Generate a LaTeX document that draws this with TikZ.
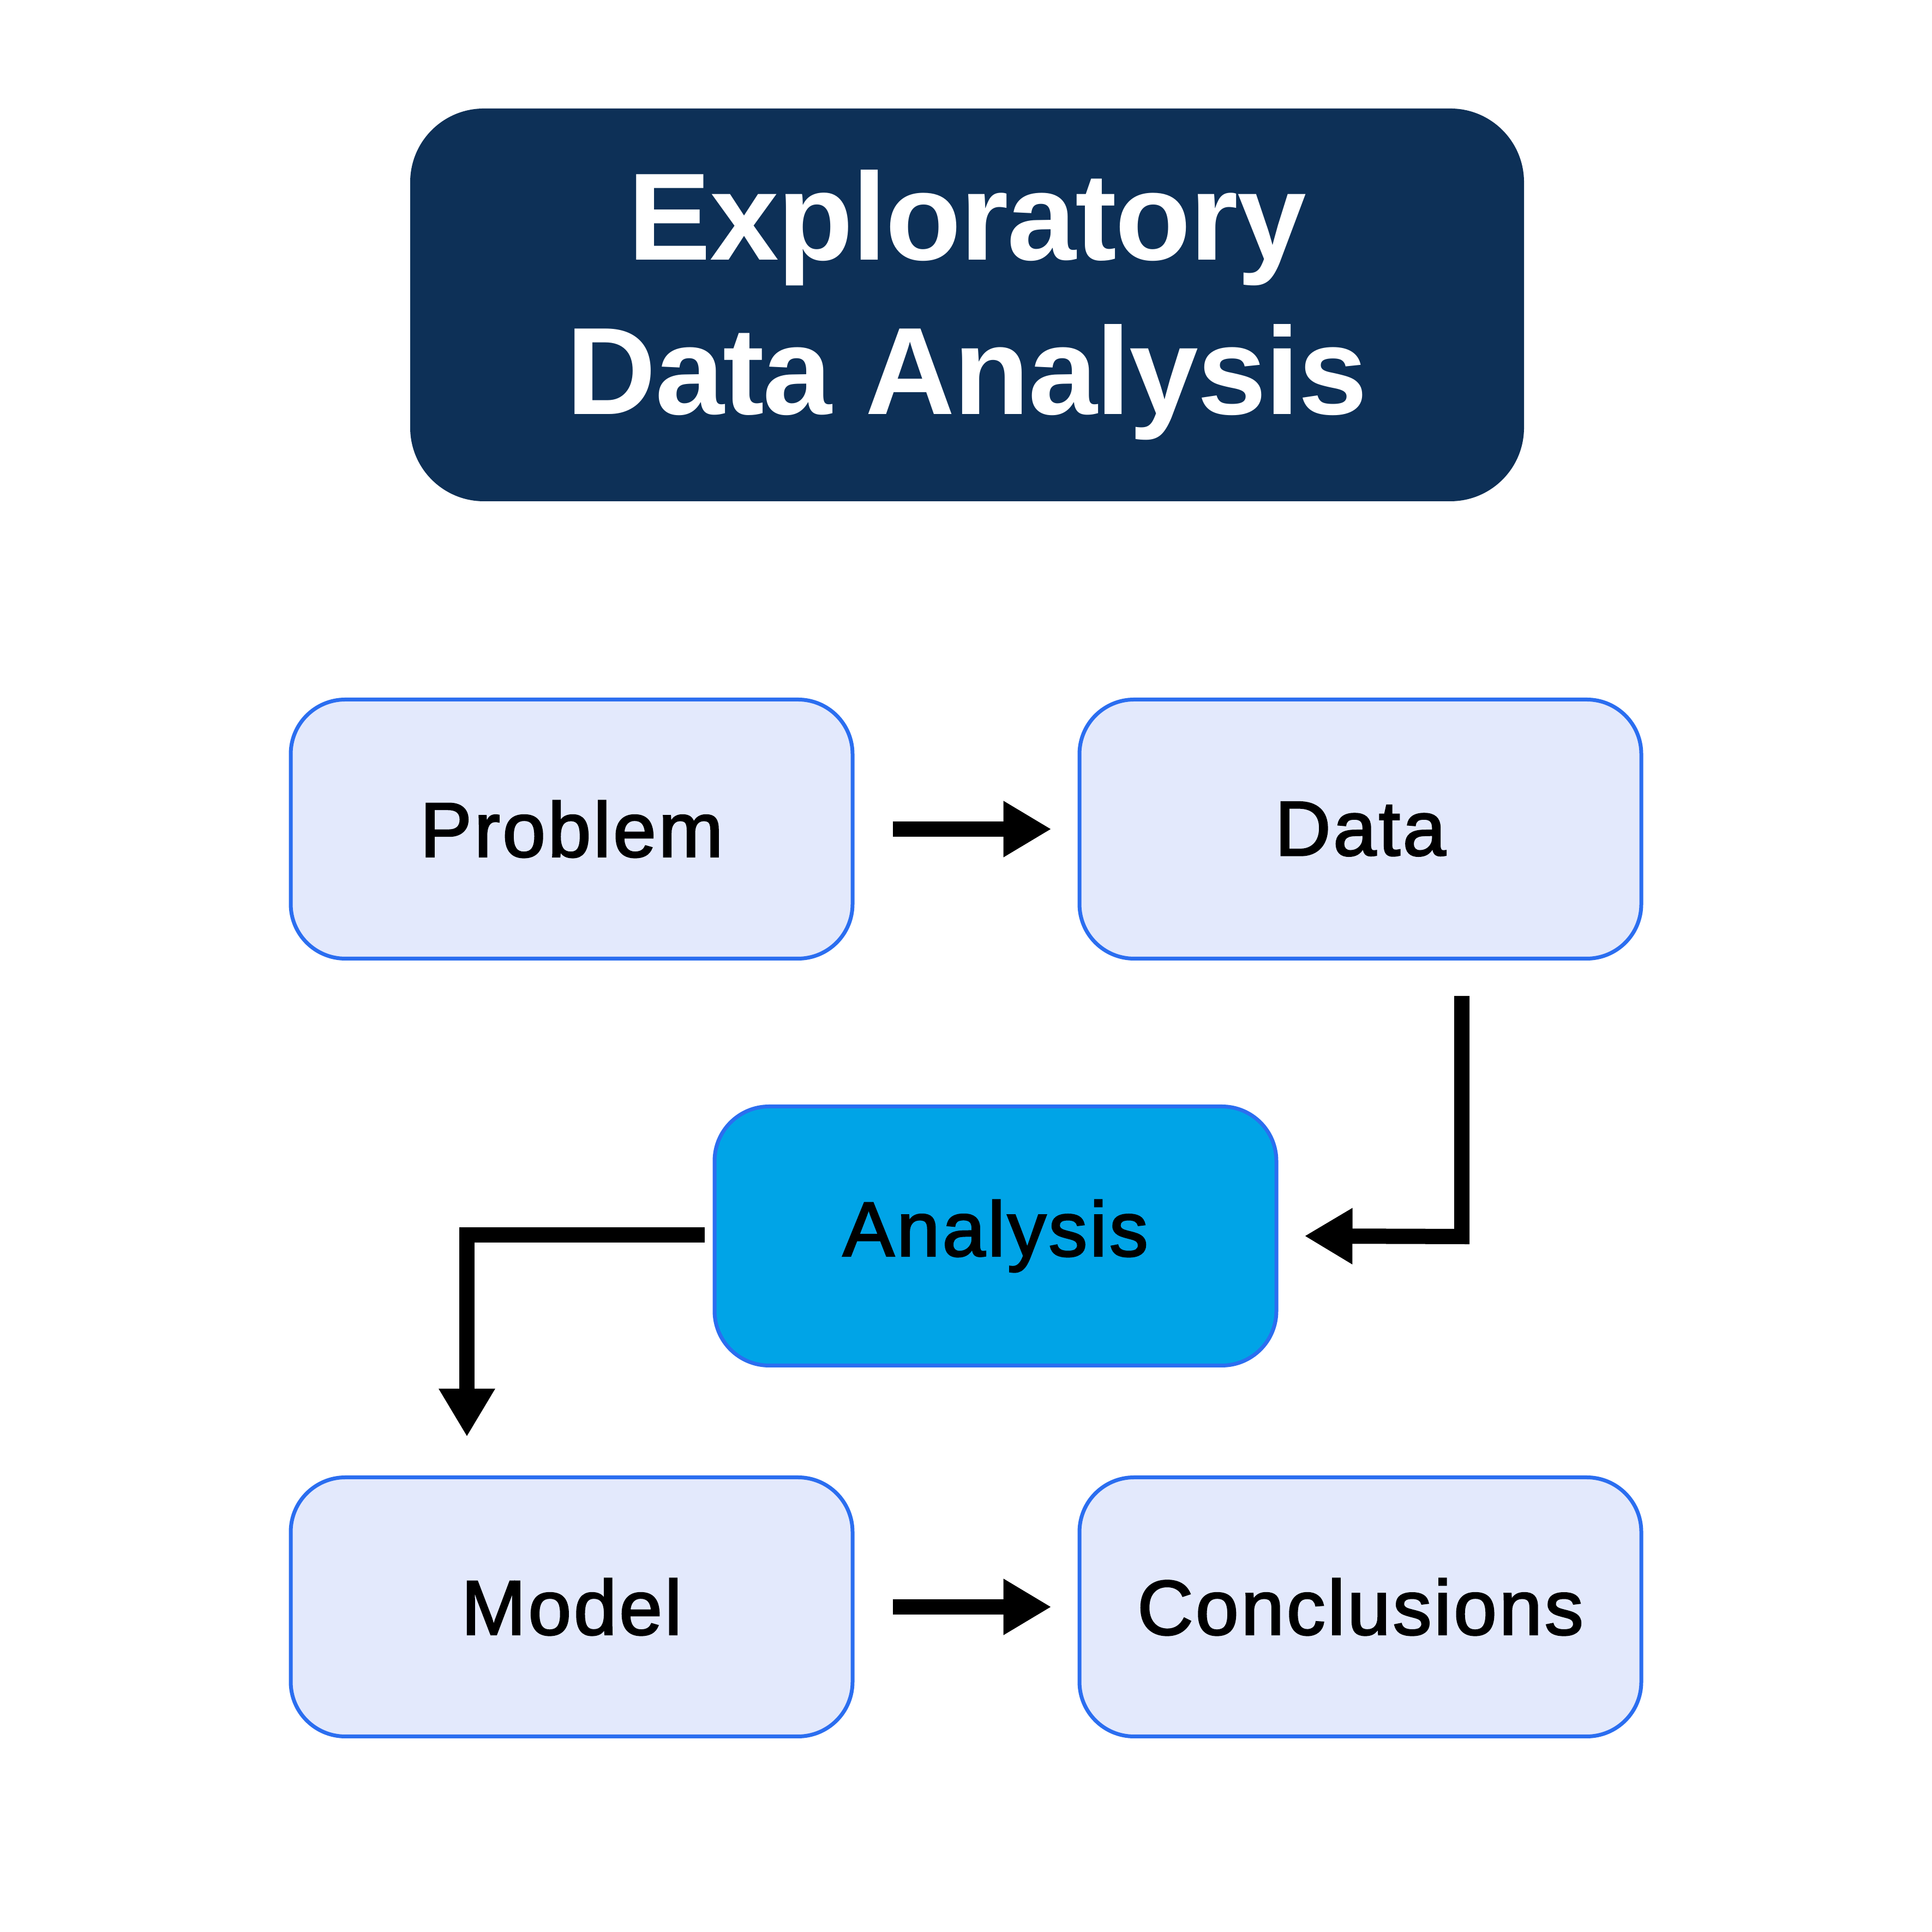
\documentclass[tikz,border=0pt]{standalone}
\usepackage{fontspec}
\setmainfont{Liberation Sans}
\newfontfamily\titlefont{Liberation Sans Bold}[LetterSpace=-1.0]
\newfontfamily\labelfont{Liberation Sans}[FakeBold=2.2,LetterSpace=3.2]
\usetikzlibrary{arrows.meta}
\definecolor{navy}{RGB}{13,48,87}
\definecolor{boxfill}{RGB}{227,233,252}
\definecolor{boxline}{RGB}{43,110,240}
\definecolor{cyanfill}{RGB}{0,164,231}
\begin{document}
\begin{tikzpicture}[
  titlebox/.style={fill=navy, draw=none, rounded corners=1.35cm,
    minimum width=20.42cm, minimum height=7.2cm, text=white, align=center,
    font=\titlefont\fontsize{64.8}{80.7}\selectfont, inner sep=0pt},
  stepbox/.style={fill=boxfill, draw=boxline, line width=0.07cm, rounded corners=1.0cm,
    minimum width=10.3cm, minimum height=4.75cm, text=black,
    font=\labelfont\fontsize{40.35}{50}\selectfont, inner sep=0pt},
  hotbox/.style={stepbox, fill=cyanfill},
  arr/.style={line width=0.28cm, -{Triangle[length=0.88cm,width=0.97cm]}}
]
\useasboundingbox (0,0) rectangle (35.42,35.42);
\fill[white] (0,0) rectangle (35.42,35.42);
\node[titlebox] (title) at (17.73,29.83) {Exploratory\\Data Analysis};
\node[stepbox] (problem) at (10.48,20.22) {Problem};
\node[stepbox] (data) at (24.94,20.22) {Data};
\node[hotbox] (analysis) at (18.25,12.76) {Analysis};
\node[stepbox] (model) at (10.48,5.96) {Model};
\node[stepbox] (conclusions) at (24.94,5.96) {Conclusions};
\coordinate (d1) at (26.80,17.16);
\coordinate (d2) at (26.80,12.75);
\coordinate (a1) at (12.92,12.78);
\coordinate (a2) at (8.56,12.78);
\coordinate (a3) at (8.56,9.08);
\draw[arr] ([xshift=0.7cm]problem.east) -- ([xshift=-0.48cm]data.west);
\draw[arr] (d1) -- (d2) -- ([xshift=0.48cm]analysis.east);
\draw[arr] (a1) -- (a2) -- (a3);
\draw[arr] ([xshift=0.7cm]model.east) -- ([xshift=-0.48cm]conclusions.west);
\end{tikzpicture}
\end{document}
